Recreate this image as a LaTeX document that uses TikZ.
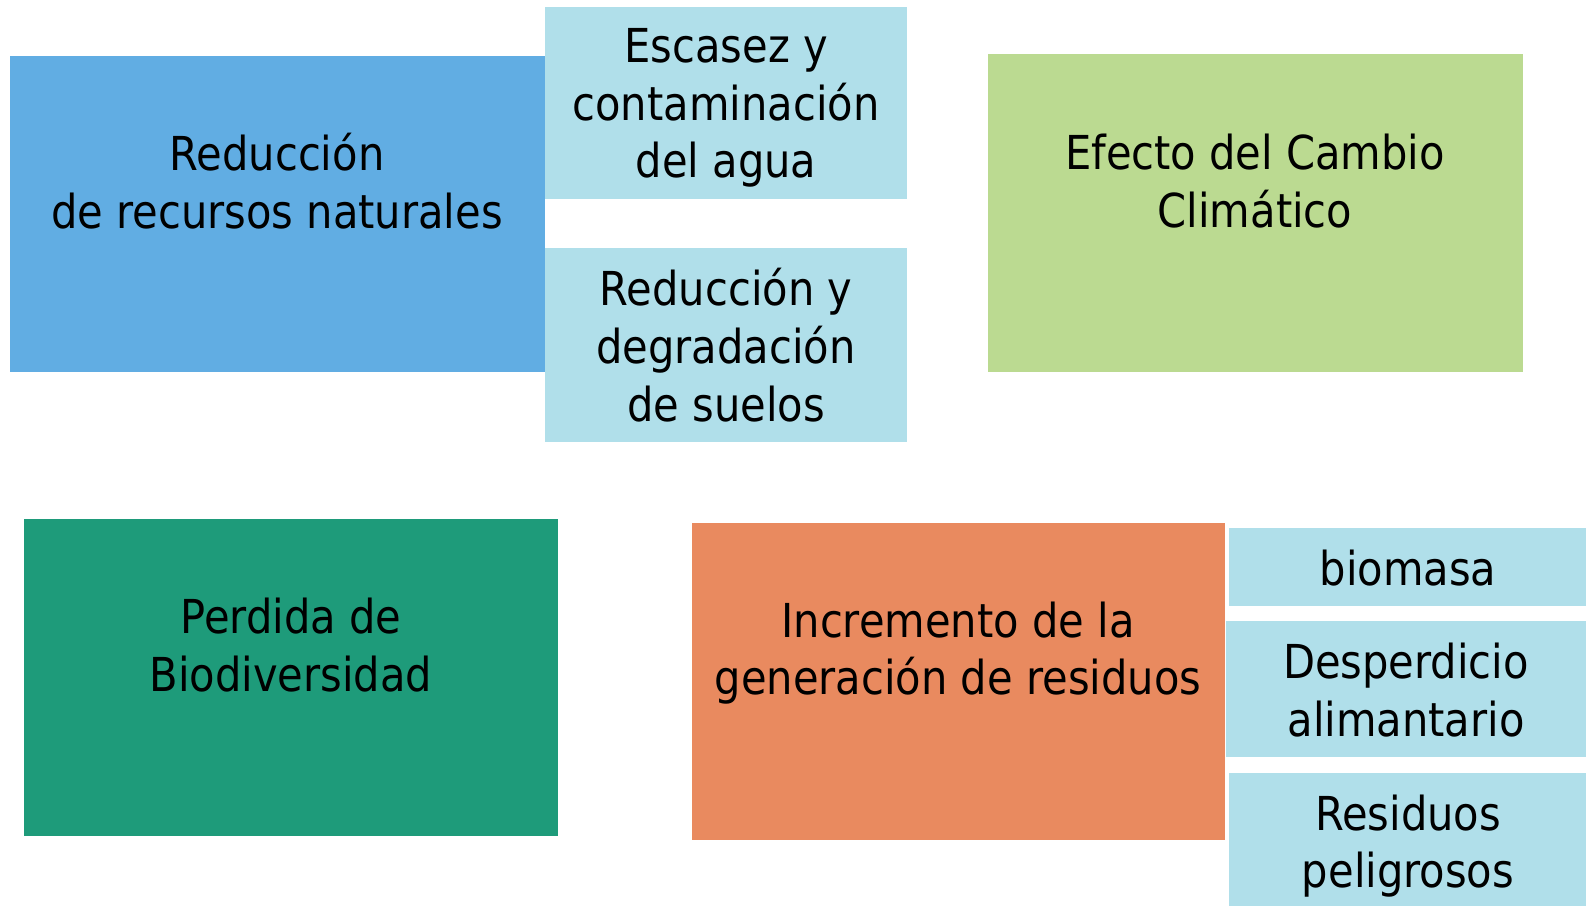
\documentclass[tikz,border=0pt]{standalone}
\usepackage{fontspec}
\setmainfont{DejaVu Sans}[FakeStretch=0.89]
\usetikzlibrary{positioning}
\definecolor{azul}{HTML}{61ADE3}
\definecolor{celeste}{HTML}{B0DFEA}
\definecolor{verde}{HTML}{BBDA91}
\definecolor{turquesa}{HTML}{1E9B7A}
\definecolor{naranja}{HTML}{E98A5F}
\tikzset{
	caja/.style={rectangle, inner sep=0pt, outer sep=0pt, anchor=north west},
	texto/.style={align=center, text=black, font=\fontsize{13.3}{16.4}\selectfont},
}

\begin{document}
\begin{tikzpicture}[x=0.01cm, y=-0.01cm]
	\useasboundingbox (0,0) rectangle (1586,906);
	
	% cajas grandes
	\node[caja, fill=azul, minimum width=5.35cm, minimum height=3.16cm] (recursos) at (10,56) {};
	\node[caja, fill=verde, minimum width=5.35cm, minimum height=3.18cm] (clima) at (988,54) {};
	\node[caja, fill=turquesa, minimum width=5.34cm, minimum height=3.17cm] (biodiv) at (24,519) {};
	\node[caja, fill=naranja, minimum width=5.33cm, minimum height=3.17cm] (residuos) at (692,523) {};
	
	% cajas secundarias
	\node[caja, fill=celeste, minimum width=3.62cm, minimum height=1.92cm] (agua) at (545,7) {};
	\node[caja, fill=celeste, minimum width=3.62cm, minimum height=1.94cm] (suelos) at (545,248) {};
	\node[caja, fill=celeste, minimum width=3.57cm, minimum height=0.78cm] (biomasa) at (1229,528) {};
	\node[caja, fill=celeste, minimum width=3.60cm, minimum height=1.36cm] (desperdicio) at (1226,621) {};
	\node[caja, fill=celeste, minimum width=3.57cm, minimum height=1.33cm] (peligrosos) at (1229,773) {};
	
	\node[texto] (recursos-t) at (277,181) {Reducción\\de recursos naturales};
	\node[texto] (clima-t) at (1255,181) {Efecto del Cambio\\Climático};
	\node[texto] (biodiv-t) at (291,645) {Perdida de\\Biodiversidad};
	\node[texto] (residuos-t) at (958,653) {Incremento de la\\generación de residuos};
	\node[texto] (agua-t) at (726,108) {Escasez y\\contaminación\\del agua};
	\node[texto] (suelos-t) at (726,345) {Reducción y\\degradación\\de suelos};
	\node[texto] (biomasa-t) at (1408,568) {biomasa};
	\node[texto] (desperdicio-t) at (1406,690) {Desperdicio\\alimantario};
	\node[texto] (peligrosos-t) at (1408,846) {Residuos\\peligrosos};
\end{tikzpicture}
\end{document}
